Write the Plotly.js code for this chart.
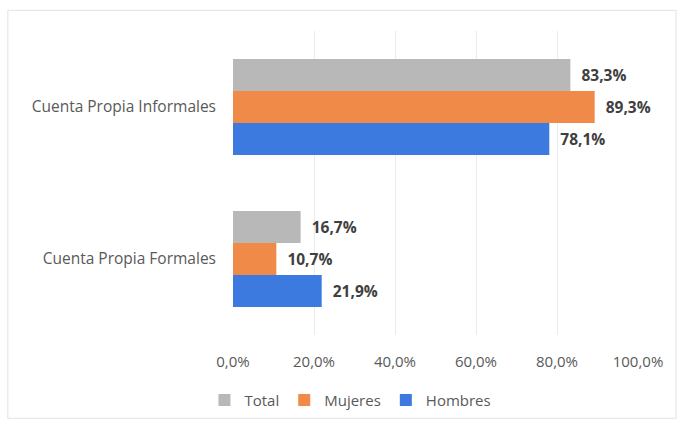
<!DOCTYPE html>
<html>
<head>
<meta charset="utf-8">
<script src="https://cdn.plot.ly/plotly-3.0.1.min.js"></script>
<style>html,body{margin:0;padding:0;background:#fff;}#chart{width:683px;height:429px;}</style>
</head>
<body>
<div id="chart"></div>
<script>
const categories = ["Cuenta Propia Formales", "Cuenta Propia Informales"];
const totalValues = [16.7, 83.3];
const mujeresValues = [10.7, 89.3];
const hombresValues = [21.9, 78.1];
const tickValues = [0, 20, 40, 60, 80, 100];
const tickLabels = ["0,0%", "20,0%", "40,0%", "60,0%", "80,0%", "100,0%"];

const fontFamily = "Open Sans, Liberation Sans, sans-serif";
const labelFont = {family: fontFamily, size: 15.5, color: "#404040", weight: "bold"};

function barTrace(name, values, color) {
  return {
    type: "bar",
    orientation: "h",
    name: name,
    y: categories,
    x: values,
    marker: {color: color},
    texttemplate: "  %{x:.1f}%",
    textposition: "outside",
    textfont: labelFont,
    cliponaxis: false,
    hoverinfo: "x+name"
  };
}

const data = [
  barTrace("Hombres", hombresValues, "#3C7ADF"),
  barTrace("Mujeres", mujeresValues, "#EF8A48"),
  barTrace("Total", totalValues, "#B8B8B8")
];

const layout = {
  width: 683,
  height: 429,
  margin: {l: 233, r: 45, t: 31, b: 91},
  paper_bgcolor: "#ffffff",
  plot_bgcolor: "#ffffff",
  separators: ",.",
  barmode: "group",
  bargap: 0.37,
  bargroupgap: 0,
  showlegend: true,
  legend: {
    orientation: "h",
    traceorder: "reversed",
    x: 0.29,
    xanchor: "center",
    y: -0.215,
    yanchor: "middle",
    font: {family: fontFamily, size: 15, color: "#595959"},
    itemwidth: 30
  },
  xaxis: {
    range: [0, 100],
    tickvals: tickValues,
    ticktext: tickLabels,
    showgrid: true,
    gridcolor: "#EBEBEB",
    zeroline: false,
    showline: false,
    ticks: "",
    ticklabelstandoff: 16,
    tickfont: {family: fontFamily, size: 15, color: "#595959"},
    fixedrange: true
  },
  yaxis: {
    type: "category",
    showgrid: false,
    zeroline: false,
    showline: false,
    ticks: "",
    ticklabelstandoff: 16,
    tickfont: {family: fontFamily, size: 15.5, color: "#595959"},
    fixedrange: true
  },
  shapes: [{
    type: "rect",
    xref: "paper", yref: "paper",
    x0: -0.556, x1: 1.094, y0: -0.274, y1: 1.068,
    line: {color: "#E3E3E3", width: 1},
    fillcolor: "rgba(0,0,0,0)",
    layer: "below"
  }]
};

Plotly.newPlot("chart", data, layout, {displayModeBar: false, staticPlot: true});
</script>
</body>
</html>
